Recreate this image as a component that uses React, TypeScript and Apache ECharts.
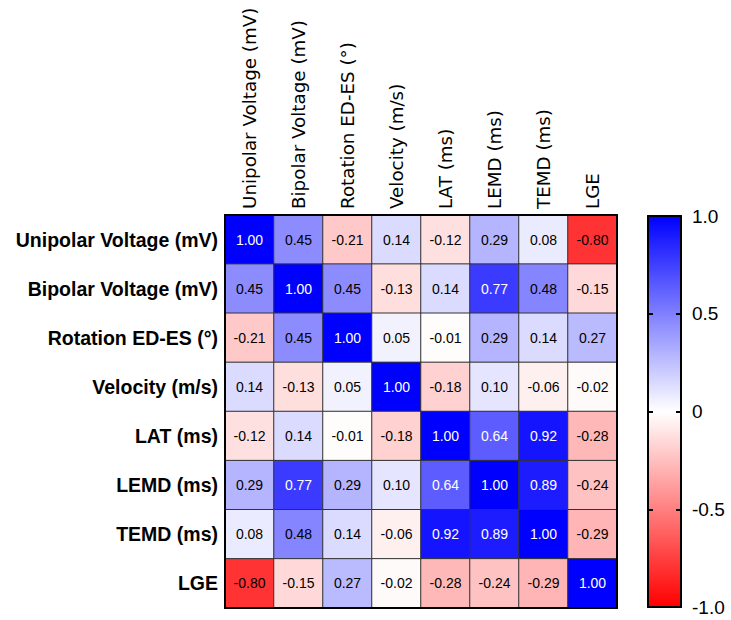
import React, { useEffect, useRef } from "react";
import * as echarts from "echarts";

const variables = [
  "Unipolar Voltage (mV)",
  "Bipolar Voltage (mV)",
  "Rotation ED-ES (°)",
  "Velocity (m/s)",
  "LAT (ms)",
  "LEMD (ms)",
  "TEMD (ms)",
  "LGE",
];

const rowUnipolar = [1.0, 0.45, -0.21, 0.14, -0.12, 0.29, 0.08, -0.8];
const rowBipolar = [0.45, 1.0, 0.45, -0.13, 0.14, 0.77, 0.48, -0.15];
const rowRotation = [-0.21, 0.45, 1.0, 0.05, -0.01, 0.29, 0.14, 0.27];
const rowVelocity = [0.14, -0.13, 0.05, 1.0, -0.18, 0.1, -0.06, -0.02];
const rowLAT = [-0.12, 0.14, -0.01, -0.18, 1.0, 0.64, 0.92, -0.28];
const rowLEMD = [0.29, 0.77, 0.29, 0.1, 0.64, 1.0, 0.89, -0.24];
const rowTEMD = [0.08, 0.48, 0.14, -0.06, 0.92, 0.89, 1.0, -0.29];
const rowLGE = [-0.8, -0.15, 0.27, -0.02, -0.28, -0.24, -0.29, 1.0];

const matrix = [rowUnipolar, rowBipolar, rowRotation, rowVelocity, rowLAT, rowLEMD, rowTEMD, rowLGE];

const colorbarTicks = [-1, -0.5, 0, 0.5, 1];

export default function App() {
  const ref = useRef<HTMLDivElement>(null);
  useEffect(() => {
    if (!ref.current) return;
    const chart = echarts.init(ref.current, null, { renderer: "svg" });
    const data: any[] = [];
    matrix.forEach((row, y) => {
      row.forEach((v, x) => {
        data.push({
          value: [x, y, v],
          label: { color: v > 0.6 ? "#ffffff" : "#000000" },
        });
      });
    });
    const gridLine = { show: true, onZero: false, lineStyle: { color: "#000", width: 2 } };
    const option: any = {
      animation: false,
      backgroundColor: "#ffffff",
      grid: [
        { left: 225, top: 215, width: 392, height: 393 },
        { left: 648, top: 216, width: 33, height: 391 },
      ],
      xAxis: [
        {
          gridIndex: 0,
          type: "category",
          data: variables,
          position: "top",
          z: 10,
          axisLine: gridLine,
          axisTick: { show: false },
          splitLine: { show: false },
          axisLabel: {
            rotate: -90,
            interval: 0,
            margin: 6,
            color: "#000",
            fontSize: 18.3,
            fontFamily: "DejaVu Sans",
          },
        },
        {
          gridIndex: 0,
          type: "category",
          data: variables,
          position: "bottom",
          z: 10,
          axisLine: gridLine,
          axisTick: { show: false },
          axisLabel: { show: false },
        },
        {
          gridIndex: 1,
          type: "value",
          min: 0,
          max: 1,
          position: "bottom",
          z: 10,
          axisLine: gridLine,
          axisTick: { show: false },
          axisLabel: { show: false },
          splitLine: { show: false },
        },
        {
          gridIndex: 1,
          type: "value",
          min: 0,
          max: 1,
          position: "top",
          z: 10,
          axisLine: gridLine,
          axisTick: { show: false },
          axisLabel: { show: false },
          splitLine: { show: false },
        },
      ],
      yAxis: [
        {
          gridIndex: 0,
          type: "category",
          data: variables,
          inverse: true,
          position: "left",
          z: 10,
          axisLine: gridLine,
          axisTick: { show: false },
          axisLabel: {
            interval: 0,
            margin: 7,
            color: "#000",
            fontSize: 19.5,
            fontWeight: "bold",
            fontFamily: "Liberation Sans",
          },
        },
        {
          gridIndex: 0,
          type: "category",
          data: variables,
          inverse: true,
          position: "right",
          z: 10,
          axisLine: gridLine,
          axisTick: { show: false },
          axisLabel: { show: false },
        },
        {
          gridIndex: 1,
          type: "value",
          min: -1,
          max: 1,
          interval: 0.5,
          position: "right",
          z: 10,
          axisLine: gridLine,
          axisTick: { show: true, inside: true, length: 5, lineStyle: { color: "#000", width: 2 } },
          splitLine: { show: false },
          axisLabel: {
            margin: 11,
            color: "#000",
            fontSize: 19,
            fontFamily: "Liberation Sans",
            formatter: (v: number) => (colorbarTicks.includes(v) ? (v === 0 ? "0" : v.toFixed(1)) : ""),
          },
        },
        {
          gridIndex: 1,
          type: "value",
          min: -1,
          max: 1,
          interval: 0.5,
          position: "left",
          z: 10,
          axisLine: gridLine,
          axisTick: { show: true, inside: true, length: 5, lineStyle: { color: "#000", width: 2 } },
          splitLine: { show: false },
          axisLabel: { show: false },
        },
      ],
      visualMap: {
        type: "continuous",
        min: -1,
        max: 1,
        seriesIndex: 0,
        calculable: false,
        orient: "vertical",
        left: 648,
        top: 216,
        itemWidth: 33,
        itemHeight: 391,
        padding: 0,
        text: ["", ""],
        showLabel: false,
        inRange: { color: ["#ff0000", "#ffffff", "#0000ff"] },
      },
      series: [
        {
          type: "heatmap",
          xAxisIndex: 0,
          yAxisIndex: 0,
          data,
          itemStyle: { borderColor: "#333", borderWidth: 1 },
          label: {
            show: true,
            fontSize: 14,
            fontFamily: "Liberation Sans",
            formatter: (p: any) => p.value[2].toFixed(2),
          },
          emphasis: { disabled: true },
        },
        {
          type: "line",
          xAxisIndex: 2,
          yAxisIndex: 2,
          data: [],
        },
      ],
    };
    chart.setOption(option);
    return () => chart.dispose();
  }, []);
  return (
    <div
      ref={ref}
      style={{ position: "fixed", left: 0, top: 0, width: 731, height: 620, background: "#fff" }}
    />
  );
}
